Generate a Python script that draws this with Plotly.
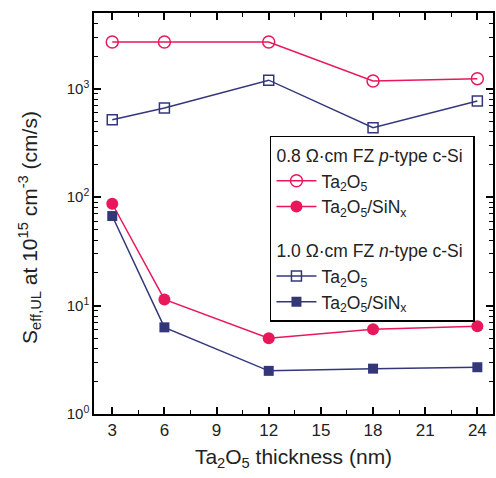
import plotly.graph_objects as go

thickness = [3, 6, 12, 18, 24]
p_ta2o5 = [2700, 2700, 2700, 1180, 1240]
p_ta2o5_sinx = [87, 11.4, 5.0, 6.05, 6.45]
n_ta2o5 = [518, 665, 1200, 437, 770]
n_ta2o5_sinx = [67, 6.3, 2.5, 2.62, 2.7]

x_ticks = [3, 6, 9, 12, 15, 18, 21, 24]
y_ticks = [1, 10, 100, 1000]
y_ticklabels = ["10<sup>0</sup>", "10<sup>1</sup>", "10<sup>2</sup>", "10<sup>3</sup>"]

RED = "#e8185a"
BLUE = "#33377a"
FONT = "Liberation Sans, Arial, sans-serif"
TXT = "#222"

fig = go.Figure()
g1 = "0.8 Ω·cm FZ <i>p</i>-type c-Si"
g2 = "1.0 Ω·cm FZ <i>n</i>-type c-Si"
fig.add_trace(go.Scatter(x=thickness, y=p_ta2o5, mode="lines+markers",
    name="Ta<sub>2</sub>O<sub>5</sub>", legendgroup="p", legendgrouptitle_text=g1,
    line=dict(color=RED, width=1.5),
    marker=dict(symbol="circle-open", size=12, color=RED, line=dict(width=1.5, color=RED))))
fig.add_trace(go.Scatter(x=thickness, y=p_ta2o5_sinx, mode="lines+markers",
    name="Ta<sub>2</sub>O<sub>5</sub>/SiN<sub>x</sub>", legendgroup="p",
    line=dict(color=RED, width=1.5),
    marker=dict(symbol="circle", size=12, color=RED)))
fig.add_trace(go.Scatter(x=thickness, y=n_ta2o5, mode="lines+markers",
    name="Ta<sub>2</sub>O<sub>5</sub>", legendgroup="n", legendgrouptitle_text=g2,
    line=dict(color=BLUE, width=1.5),
    marker=dict(symbol="square-open", size=10, color=BLUE, line=dict(width=1.5, color=BLUE))))
fig.add_trace(go.Scatter(x=thickness, y=n_ta2o5_sinx, mode="lines+markers",
    name="Ta<sub>2</sub>O<sub>5</sub>/SiN<sub>x</sub>", legendgroup="n",
    line=dict(color=BLUE, width=1.5),
    marker=dict(symbol="square", size=10, color=BLUE)))

minor_y = [m * 10 ** e for e in range(0, 4) for m in range(2, 10) if m * 10 ** e < 5000]

fig.update_layout(
    width=496, height=478,
    margin=dict(l=94, r=3, t=13, b=64),
    paper_bgcolor="white", plot_bgcolor="white",
    font=dict(family=FONT, size=17, color=TXT),
    showlegend=True,
    legend=dict(x=0.441, y=0.694, xanchor="left", yanchor="top",
                bordercolor="black", borderwidth=1.5, bgcolor="white",
                font=dict(size=17.5, family=FONT, color=TXT),
                grouptitlefont=dict(size=17.5, family=FONT, color=TXT),
                tracegroupgap=18, itemwidth=40, traceorder="grouped"),
    xaxis=dict(range=[1.95, 24.9], tickvals=x_ticks, ticks="inside", ticklen=7,
               tickwidth=1.5, tickcolor="black", showline=True, linecolor="black",
               linewidth=1.5, mirror="allticks", showgrid=False, zeroline=False,
               automargin=False,
               tickfont=dict(size=17, family=FONT, color=TXT),
               minor=dict(ticks="inside", ticklen=4, tickwidth=1.2, tickcolor="black",
                          tickvals=[4.5, 7.5, 10.5, 13.5, 16.5, 19.5, 22.5], showgrid=False),
               title=dict(text="Ta<sub>2</sub>O<sub>5</sub> thickness (nm)",
                          font=dict(size=21, family=FONT, color=TXT), standoff=10)),
    yaxis=dict(type="log", range=[0, 3.699], tickvals=y_ticks, ticktext=y_ticklabels,
               ticks="inside", ticklen=7, tickwidth=1.5, tickcolor="black",
               showline=True, linecolor="black", linewidth=1.5, mirror="allticks",
               showgrid=False, zeroline=False, automargin=False,
               tickfont=dict(size=15, family=FONT, color=TXT),
               minor=dict(ticks="inside", ticklen=4, tickwidth=1.2, tickcolor="black",
                          tickvals=minor_y, showgrid=False)),
    annotations=[dict(text="S<sub>eff,UL</sub> at 10<sup>15</sup> cm<sup>-3</sup> (cm/s)",
                      xref="paper", yref="paper", x=0, y=0.464, xshift=-64,
                      xanchor="center", yanchor="middle", textangle=-90,
                      showarrow=False, font=dict(size=21, family=FONT, color=TXT))],
)

fig.write_html("out.html", config={"displayModeBar": False},
               post_script="document.body.style.margin='0';")
